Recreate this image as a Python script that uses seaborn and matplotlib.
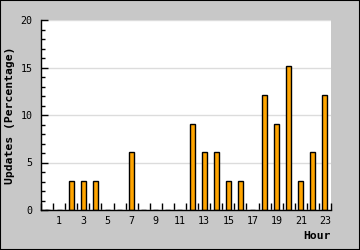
import matplotlib
matplotlib.use("Agg")
import matplotlib.pyplot as plt
import seaborn as sns
import numpy as np
import pandas as pd
from matplotlib.ticker import MultipleLocator, FixedLocator
from matplotlib.patches import Rectangle

hours = list(range(24))
percentages = [0, 0, 3.03, 3.03, 3.03, 0, 0, 6.06, 0, 0, 0, 0,
               9.09, 6.06, 6.06, 3.03, 3.03, 0, 12.12, 9.09, 15.15, 3.03, 6.06, 12.12]
xtick_labels = [str(h) for h in range(1, 24, 2)]
ylabel = "Updates (Percentage)"
xlabel = "Hour"

sns.set_style("white", {"text.color": "black", "axes.labelcolor": "black",
                        "xtick.color": "black", "ytick.color": "black"})
plt.rcParams['font.family'] = ['DejaVu Sans Mono', 'DejaVu Sans']

fig = plt.figure(figsize=(3.6, 2.5), dpi=100, facecolor="#c8c8c8")
fig.patches.append(Rectangle((0, 0), 1, 1, transform=fig.transFigure,
                             fill=False, edgecolor="black", linewidth=1.5, zorder=10))
ax = fig.add_axes([41/360, 40/250, 290/360, 190/250])
ax.set_facecolor("white")

df = pd.DataFrame({"hour": hours, "pct": percentages})
sns.barplot(data=df, x="hour", y="pct", order=hours, width=0.42,
            color="#FFA500", edgecolor="black", linewidth=1.0, saturation=1, ax=ax, zorder=3)

ax.set_xlim(-0.5, 23.5)
ax.set_ylim(0, 20)

# x ticks: labels at odd hours, tick marks at boundaries
ax.set_xticks(list(range(1, 24, 2)))
ax.set_xticklabels(xtick_labels, fontsize=7.2, color="black")
ax.tick_params(axis="x", which="major", length=0, pad=4, labelcolor="black")
ax.xaxis.set_minor_locator(FixedLocator(np.arange(-0.5, 24, 1)))
ax.tick_params(axis="x", which="minor", direction="in", length=5, width=1, color="black", bottom=True)

ax.yaxis.set_major_locator(MultipleLocator(5))
ax.yaxis.set_minor_locator(MultipleLocator(1))
ax.tick_params(axis="y", which="major", direction="in", length=5, width=1, color="black",
               labelsize=7.2, pad=6, left=True, labelcolor="black")
ax.tick_params(axis="y", which="minor", direction="in", length=3, width=1, color="black", left=True)

ax.grid(axis="y", which="major", color="#dcdcdc", linewidth=1, zorder=0)
ax.set_axisbelow(True)

for s in ["top", "right"]:
    ax.spines[s].set_visible(False)
for s in ["left", "bottom"]:
    ax.spines[s].set_color("black")
    ax.spines[s].set_linewidth(1)
    ax.spines[s].set_zorder(5)

ax.set_ylabel(ylabel, fontsize=8.2, fontweight="bold", color="black")
ax.yaxis.label.set_verticalalignment("center")
ax.yaxis.set_label_coords(-31/290, 0.5)
ax.set_xlabel(xlabel, fontsize=8.2, fontweight="bold", loc="right", color="black")
ax.xaxis.set_label_coords(1.0, -26/190)
ax.xaxis.label.set_verticalalignment("center")

fig.savefig("out.png", dpi=100, facecolor=fig.get_facecolor())
